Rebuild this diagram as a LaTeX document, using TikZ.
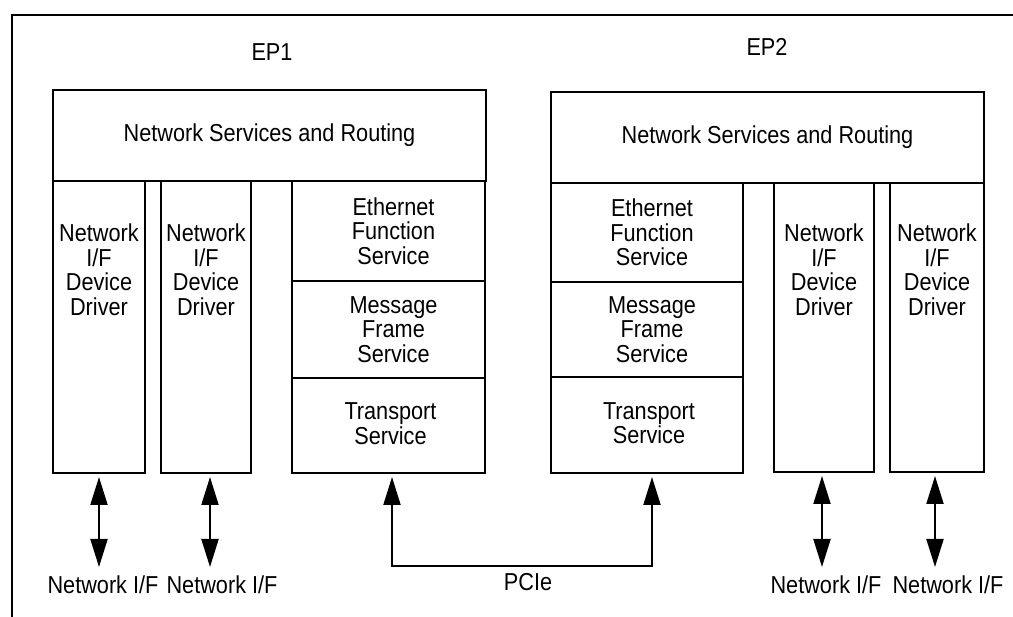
\documentclass[tikz,border=0pt]{standalone}
\usepackage{fontspec}
\setmainfont[FakeStretch=0.885]{Liberation Sans}
\usetikzlibrary{arrows.meta,positioning}
\begin{document}
\begin{tikzpicture}[x=1pt,y=-1pt,
  every node/.style={font=\fontsize{24.5}{24.5}\selectfont,inner sep=0pt,outer sep=0pt},
  blk/.style={draw,line width=2pt,anchor=north west},
  txt/.style={align=center},
  conn/.style={line width=2pt,{Triangle[width=17pt,length=28pt]}-{Triangle[width=17pt,length=28pt]}},
]
\useasboundingbox (0,0) rectangle (1013,617);
% open frame
\draw[line width=2pt] (12,617) -- (12,15) -- (1013,15);

% EP1
\node (ep1) at (272,52) {EP1};
\node[blk,minimum width=433pt,minimum height=91pt] (nsr1) at (53,90) {};
\node[txt] at (nsr1.center) {Network Services and Routing};
\node[blk,minimum width=92pt,minimum height=292pt] (d1) at (53,181) {};
\node[blk,minimum width=90pt,minimum height=292pt] (d2) at (161,181) {};
\node[blk,minimum width=193pt,minimum height=100pt] (eth1) at (292,181) {};
\node[blk,minimum width=193pt,minimum height=97pt] (msg1) at (292,281) {};
\node[blk,minimum width=193pt,minimum height=95pt] (tr1) at (292,378) {};
\node[txt,anchor=north] (d1t) at (d1.north |- 0,224) {Network\\I/F\\Device\\Driver};
\node[txt,anchor=north] (d2t) at (d2.north |- 0,224) {Network\\I/F\\Device\\Driver};
\node[txt,xshift=5pt] (eth1t) at (eth1.center) {Ethernet\\Function\\Service};
\node[txt,xshift=5pt] (msg1t) at (msg1.center) {Message\\Frame\\Service};
\node[txt,xshift=2pt,yshift=2pt] (tr1t) at (tr1.center) {Transport\\Service};

% EP2
\node (ep2) at (767,47) {EP2};
\node[blk,minimum width=433pt,minimum height=91pt] (nsr2) at (551,92) {};
\node[txt] at (nsr2.center) {Network Services and Routing};
\node[blk,minimum width=192pt,minimum height=99pt] (eth2) at (551,183) {};
\node[blk,minimum width=192pt,minimum height=95pt] (msg2) at (551,282) {};
\node[blk,minimum width=192pt,minimum height=96pt] (tr2) at (551,377) {};
\node[blk,minimum width=100pt,minimum height=289pt] (d3) at (774,183) {};
\node[blk,minimum width=94pt,minimum height=289pt] (d4) at (890,183) {};
\node[txt,anchor=north] (d3t) at (d3.north |- 0,224) {Network\\I/F\\Device\\Driver};
\node[txt,anchor=north] (d4t) at (d4.north |- 0,224) {Network\\I/F\\Device\\Driver};
\node[txt,xshift=5pt] (eth2t) at (eth2.center) {Ethernet\\Function\\Service};
\node[txt,xshift=5pt] (msg2t) at (msg2.center) {Message\\Frame\\Service};
\node[txt,xshift=2pt,yshift=2pt] (tr2t) at (tr2.center) {Transport\\Service};

% bottom labels
\node (l1) at (103,585) {Network I/F};
\node (l2) at (222,585) {Network I/F};
\node (l3) at (826,585) {Network I/F};
\node (l4) at (948,585) {Network I/F};
\node (pcie) at (528,582) {PCIe};

% arrow ends
\coordinate (a1) at (99,567);
\coordinate (a2) at (210,567);
\coordinate (a3) at (822,567);
\coordinate (a4) at (935,567);
\coordinate (p1) at (392,566);
\coordinate (p2) at (652,566);

\draw[conn,shorten <=4pt] (d1.south -| a1) -- (a1);
\draw[conn,shorten <=4pt] (d2.south -| a2) -- (a2);
\draw[conn,shorten <=4pt] (d3.south -| a3) -- (a3);
\draw[conn,shorten <=4pt] (d4.south -| a4) -- (a4);
\draw[conn,shorten <=4pt,shorten >=4pt] (tr1.south -| p1) -- (p1) -- (p2) -- (tr2.south -| p2);
\end{tikzpicture}
\end{document}
